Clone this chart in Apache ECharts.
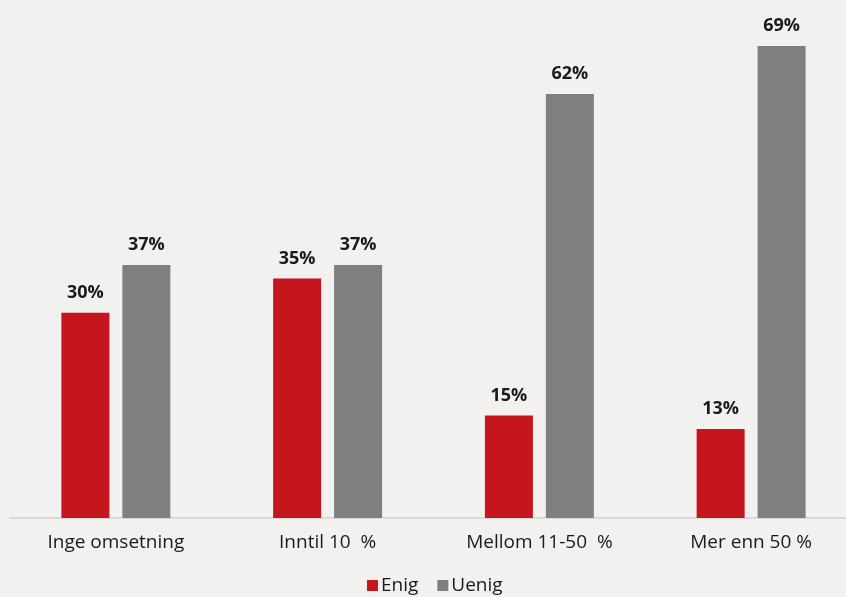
<!DOCTYPE html>
<html><head><meta charset="utf-8">
<script src="https://cdn.jsdelivr.net/npm/echarts@6/dist/echarts.min.js"></script>
<style>html,body{margin:0;padding:0;background:#f2f1f0;overflow:hidden;width:846px;height:597px;}#c{width:857px;height:597px;}</style>
</head><body><div id="c"></div>
<script>
const categories = ['Inge omsetning', 'Inntil 10  %', 'Mellom 11-50  %', 'Mer enn 50 %'];
const enig = [30, 35, 15, 13];
const uenig = [37, 37, 62, 69];
const seriesNames = ['Enig', 'Uenig'];

const chart = echarts.init(document.getElementById('c'), null, {renderer: 'canvas'});
const font = '"Open Sans", "Noto Sans", sans-serif';
const lbl = {show: true, position: 'top', distance: 11, formatter: '{c}%', fontFamily: font, fontWeight: 'bold', fontSize: 18, color: '#1a1a1a'};
chart.setOption({
  backgroundColor: '#f2f1f0',
  animation: false,
  grid: {left: 10, right: 0, top: 5, bottom: 79, containLabel: false},
  legend: {
    data: seriesNames, bottom: -3, left: 362, icon: 'rect', itemWidth: 11, itemHeight: 11, itemGap: 19,
    textStyle: {fontFamily: font, fontSize: 19, color: '#1a1a1a', padding: [0, 0, 0, -2]}
  },
  xAxis: {
    type: 'category', data: categories,
    axisLine: {lineStyle: {color: '#d9d9d9', width: 2}},
    axisTick: {show: false},
    axisLabel: {fontFamily: font, fontSize: 19, color: '#1a1a1a', margin: 15}
  },
  yAxis: {type: 'value', min: 0, max: 75, show: false, splitLine: {show: false}},
  series: [
    {name: seriesNames[0], type: 'bar', data: enig, barWidth: 48, barGap: '27%', itemStyle: {color: '#c4161c'}, label: lbl},
    {name: seriesNames[1], type: 'bar', data: uenig, barWidth: 48, itemStyle: {color: '#7f7f7f'}, label: lbl}
  ]
});
</script></body></html>
